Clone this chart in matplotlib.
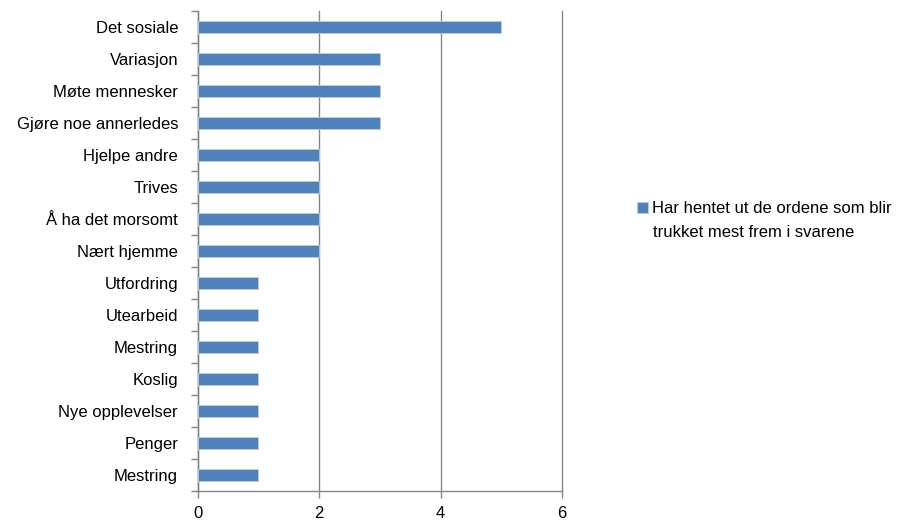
import numpy as np
import matplotlib.pyplot as plt

labels = ['Det sosiale', 'Variasjon', 'Møte mennesker', 'Gjøre noe annerledes',
          'Hjelpe andre', 'Trives', 'Å ha det morsomt', 'Nært hjemme',
          'Utfordring', 'Utearbeid', 'Mestring', 'Koslig',
          'Nye opplevelser', 'Penger', 'Mestring']
values = [5, 3, 3, 3, 2, 2, 2, 2, 1, 1, 1, 1, 1, 1, 1]
series_name = ['Har hentet ut de ordene som blir', 'trukket mest frem i svarene']

plt.rcParams['font.family'] = ['Liberation Sans', 'DejaVu Sans']

fig = plt.figure(figsize=(9.14, 5.24), dpi=100)
ax = fig.add_axes([197.5/914, 1-491/524, (562-197.5)/914, (491-11)/524])

n = len(labels)
y = np.arange(n)[::-1]
bars = ax.barh(y, values, height=0.38, color='#4F81BD', edgecolor='#B9CDE5',
               linewidth=0.6, zorder=3)

ax.set_xlim(0, 6)
ax.set_ylim(-0.5, n - 0.5)
ax.set_xticks([0, 2, 4, 6])
ax.set_yticks(y)
ax.set_yticklabels(labels, fontsize=12)
ax.set_yticks(np.arange(-0.5, n, 1), minor=True)
ax.tick_params(axis='y', which='major', length=0, pad=14)
ax.tick_params(axis='y', which='minor', length=5, color='#868686', width=1)
ax.tick_params(axis='x', length=5, color='#868686', width=1, labelsize=12, pad=6)

ax.grid(axis='x', color='#868686', linewidth=1, zorder=0)
for gl in ax.get_xgridlines():
    gl.set_clip_on(False)
for s in ['top', 'right']:
    ax.spines[s].set_visible(False)
for s in ['left', 'bottom']:
    ax.spines[s].set_color('#868686')
    ax.spines[s].set_linewidth(1)

# legend: square sits beside the first line, second line wraps under the text
fig.legend(handles=[bars], labels=[series_name[0]], loc='upper left',
           bbox_to_anchor=(637/914, 1-201/524), frameon=False, fontsize=12,
           handlelength=0.66, handleheight=0.66, handletextpad=0.25, borderpad=0,
           borderaxespad=0)
fig.text(653/914, 1-233/524, series_name[1], fontsize=12, va='center', ha='left')

fig.savefig('out.png', dpi=100)
